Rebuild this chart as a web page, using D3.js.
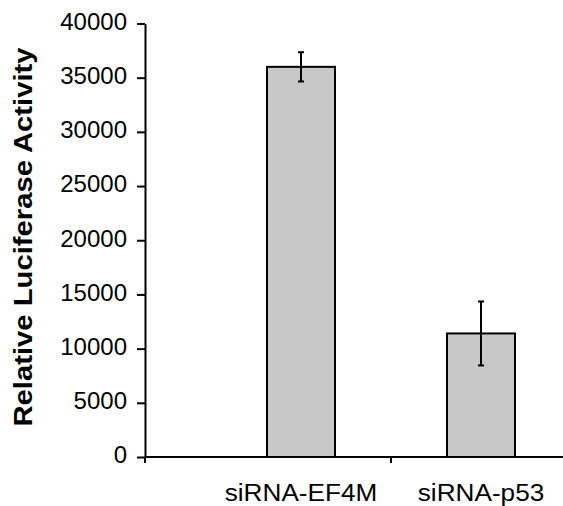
<!DOCTYPE html>
<html>
<head>
<meta charset="utf-8">
<script src="https://cdn.jsdelivr.net/npm/d3@7"></script>
<style>
	body { margin: 0; background: #fff; }
	text { font-family: "Liberation Sans", Arial, sans-serif; fill: #000; }
</style>
</head>
<body>
<div id="chart"></div>
<script>
// data
var categories = ["siRNA-EF4M", "siRNA-p53"];
var values = [36000, 11400];
var errors = [1350, 2950];
var yTicks = [0, 5000, 10000, 15000, 20000, 25000, 30000, 35000, 40000];
var yTitle = "Relative Luciferase Activity";

var svg = d3.select("#chart").append("svg")
	.attr("width", 563)
	.attr("height", 506);

// scales
var y = d3.scaleLinear().domain([0, 40000]).range([457, 23.5]);
var x = d3.scaleBand().domain(categories).range([211, 571]);
var barW = 68;
var axisX = 145;

// y axis
var yAxis = svg.append("g")
	.attr("transform", "translate(" + axisX + ",0)")
	.call(d3.axisLeft(y).tickValues(yTicks).tickSize(8).tickSizeOuter(0).tickPadding(10).tickFormat(d3.format("d")));
yAxis.select(".domain").attr("stroke", "#000").attr("stroke-width", 2);
yAxis.selectAll(".tick line").attr("stroke", "#000").attr("stroke-width", 2);
yAxis.selectAll(".tick text")
	.attr("font-size", 24)
	.attr("font-family", "Liberation Sans, Arial, sans-serif")
	.attr("dy", "0.24em");

// x axis line + boundary ticks
svg.append("line")
	.attr("x1", axisX).attr("x2", 563)
	.attr("y1", y(0)).attr("y2", y(0))
	.attr("stroke", "#000").attr("stroke-width", 2);
svg.selectAll(".xtick")
	.data([axisX, x(categories[1])])
	.enter().append("line")
	.attr("class", "xtick")
	.attr("x1", function(d) { return d; })
	.attr("x2", function(d) { return d; })
	.attr("y1", y(0))
	.attr("y2", y(0) + 6)
	.attr("stroke", "#000").attr("stroke-width", 2);

// bars
var group1 = svg.selectAll(".bar")
	.data(categories)
	.enter()
	.append("g")
	.attr("class", "bar");

group1.append("rect")
	.attr("x", function(d) { return x(d) + x.bandwidth() / 2 - barW / 2; })
	.attr("y", function(d, i) { return y(values[i]); })
	.attr("width", barW)
	.attr("height", function(d, i) { return y(0) - y(values[i]); })
	.attr("fill", "#c8c8c8")
	.attr("stroke", "#000")
	.attr("stroke-width", 2);

// error bars
group1.append("line")
	.attr("x1", function(d) { return x(d) + x.bandwidth() / 2; })
	.attr("x2", function(d) { return x(d) + x.bandwidth() / 2; })
	.attr("y1", function(d, i) { return y(values[i] + errors[i]); })
	.attr("y2", function(d, i) { return y(values[i] - errors[i]); })
	.attr("stroke", "#000").attr("stroke-width", 2);
[1, -1].forEach(function(s) {
	group1.append("line")
		.attr("x1", function(d) { return x(d) + x.bandwidth() / 2 - 3; })
		.attr("x2", function(d) { return x(d) + x.bandwidth() / 2 + 3; })
		.attr("y1", function(d, i) { return y(values[i] + s * errors[i]); })
		.attr("y2", function(d, i) { return y(values[i] + s * errors[i]); })
		.attr("stroke", "#000").attr("stroke-width", 2);
});

// category labels
group1.append("text")
	.attr("transform", function(d) {
		return "translate(" + (x(d) + x.bandwidth() / 2) + ",501) scale(1.09,1)";
	})
	.attr("text-anchor", "middle")
	.attr("font-size", 24)
	.text(function(d) { return d; });

// y title
svg.append("text")
	.attr("transform", "translate(32,237) rotate(-90) scale(1.17,1)")
	.attr("text-anchor", "middle")
	.attr("font-size", 25)
	.attr("font-weight", "bold")
	.text(yTitle);
</script>
</body>
</html>
